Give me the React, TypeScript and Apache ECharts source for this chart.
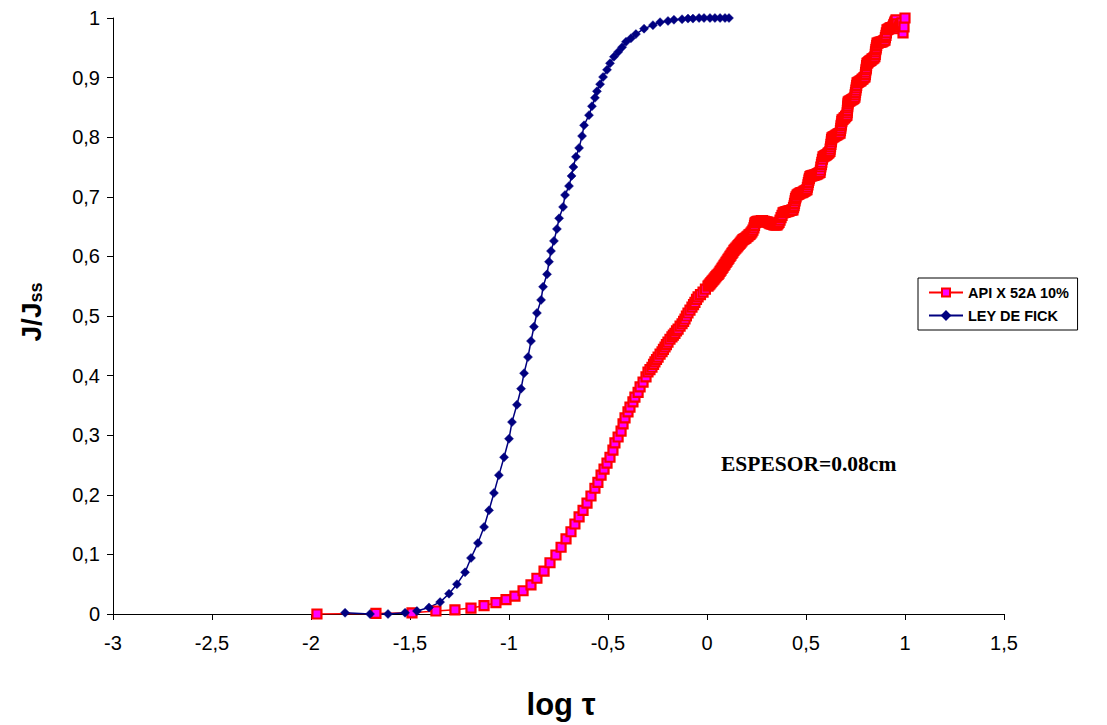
import React, { useEffect, useRef } from "react";
import * as echarts from "echarts";

// API X 52A 10%: [log tau, J/Jss]
const apiPoints: [number, number][] = [
  [-1.970, 0.000], [-1.672, 0.001], [-1.490, 0.002], [-1.369, 0.005], [-1.273, 0.007],
  [-1.192, 0.010], [-1.126, 0.014], [-1.066, 0.019], [-1.015, 0.024], [-0.970, 0.030],
  [-0.929, 0.039], [-0.889, 0.049], [-0.859, 0.060], [-0.823, 0.072], [-0.793, 0.086],
  [-0.763, 0.099], [-0.737, 0.112], [-0.712, 0.126], [-0.687, 0.138], [-0.667, 0.151],
  [-0.646, 0.163], [-0.626, 0.174], [-0.606, 0.186], [-0.586, 0.198], [-0.566, 0.211],
  [-0.551, 0.221], [-0.535, 0.233], [-0.520, 0.243], [-0.505, 0.253], [-0.490, 0.263],
  [-0.475, 0.275], [-0.465, 0.287], [-0.449, 0.297], [-0.434, 0.307], [-0.424, 0.319],
  [-0.414, 0.329], [-0.399, 0.339], [-0.389, 0.347], [-0.374, 0.356], [-0.364, 0.364],
  [-0.348, 0.372], [-0.338, 0.381], [-0.323, 0.389], [-0.308, 0.398], [-0.298, 0.406],
  [-0.288, 0.410], [-0.278, 0.414], [-0.270, 0.419], [-0.263, 0.423], [-0.255, 0.427],
  [-0.247, 0.431], [-0.237, 0.436], [-0.227, 0.440], [-0.220, 0.444], [-0.212, 0.448],
  [-0.205, 0.452], [-0.197, 0.456], [-0.187, 0.461], [-0.177, 0.465], [-0.170, 0.468],
  [-0.162, 0.471], [-0.154, 0.475], [-0.146, 0.478], [-0.136, 0.483], [-0.126, 0.487],
  [-0.118, 0.491], [-0.111, 0.495], [-0.104, 0.500], [-0.096, 0.505], [-0.086, 0.510],
  [-0.076, 0.515], [-0.068, 0.519], [-0.061, 0.523], [-0.053, 0.528], [-0.045, 0.532],
  [-0.033, 0.536], [-0.020, 0.540], [-0.008, 0.545],
  [0.005, 0.550], [0.010, 0.552], [0.015, 0.554], [0.020, 0.556], [0.025, 0.558],
  [0.030, 0.560], [0.035, 0.562], [0.040, 0.564], [0.045, 0.566], [0.050, 0.568],
  [0.056, 0.570], [0.061, 0.572], [0.066, 0.575], [0.071, 0.577], [0.076, 0.580],
  [0.081, 0.582], [0.086, 0.585], [0.091, 0.587], [0.096, 0.590], [0.101, 0.592],
  [0.106, 0.595], [0.111, 0.597], [0.116, 0.600], [0.121, 0.602], [0.126, 0.605],
  [0.131, 0.607], [0.136, 0.610], [0.141, 0.612], [0.146, 0.614], [0.152, 0.616],
  [0.157, 0.618], [0.162, 0.620], [0.167, 0.622], [0.172, 0.624], [0.177, 0.626],
  [0.182, 0.628], [0.187, 0.629], [0.192, 0.630], [0.197, 0.631], [0.202, 0.633],
  [0.207, 0.634], [0.212, 0.636], [0.217, 0.637], [0.222, 0.639], [0.227, 0.641],
  [0.232, 0.644], [0.237, 0.648], [0.240, 0.652], [0.242, 0.656], [0.246, 0.657],
  [0.250, 0.658], [0.255, 0.659], [0.260, 0.659], [0.265, 0.659], [0.270, 0.659],
  [0.275, 0.660], [0.280, 0.660], [0.285, 0.659], [0.290, 0.659], [0.296, 0.658],
  [0.303, 0.658], [0.308, 0.657], [0.313, 0.656], [0.318, 0.655], [0.323, 0.655],
  [0.328, 0.654], [0.333, 0.654], [0.338, 0.653], [0.344, 0.653], [0.349, 0.653],
  [0.354, 0.653], [0.359, 0.655], [0.364, 0.657], [0.369, 0.661], [0.374, 0.665],
  [0.379, 0.669], [0.384, 0.673], [0.389, 0.674], [0.394, 0.674], [0.399, 0.675],
  [0.404, 0.675], [0.409, 0.676], [0.414, 0.676], [0.419, 0.677], [0.424, 0.677],
  [0.429, 0.678], [0.434, 0.678], [0.437, 0.682], [0.440, 0.685], [0.442, 0.689],
  [0.445, 0.693], [0.447, 0.697], [0.450, 0.700], [0.455, 0.703], [0.460, 0.704],
  [0.465, 0.705], [0.470, 0.706], [0.475, 0.707], [0.480, 0.707], [0.485, 0.708],
  [0.490, 0.709], [0.495, 0.710], [0.500, 0.711], [0.505, 0.712], [0.507, 0.716],
  [0.510, 0.720], [0.512, 0.724], [0.515, 0.728], [0.517, 0.731], [0.520, 0.734],
  [0.525, 0.735], [0.530, 0.735], [0.535, 0.736], [0.540, 0.736], [0.545, 0.737],
  [0.550, 0.737], [0.555, 0.738], [0.560, 0.739], [0.566, 0.740], [0.571, 0.741],
  [0.573, 0.745], [0.575, 0.750], [0.578, 0.754], [0.580, 0.758], [0.583, 0.763],
  [0.586, 0.767], [0.591, 0.768], [0.596, 0.769], [0.601, 0.770], [0.606, 0.771],
  [0.611, 0.773], [0.616, 0.774], [0.621, 0.776], [0.622, 0.780], [0.624, 0.784],
  [0.626, 0.788], [0.628, 0.792], [0.629, 0.796], [0.631, 0.799], [0.636, 0.800],
  [0.641, 0.801], [0.646, 0.802], [0.651, 0.803], [0.656, 0.804], [0.661, 0.805],
  [0.666, 0.806], [0.672, 0.807], [0.674, 0.811], [0.676, 0.815], [0.677, 0.819],
  [0.679, 0.822], [0.681, 0.826], [0.682, 0.829], [0.687, 0.830], [0.692, 0.832],
  [0.696, 0.833], [0.700, 0.835], [0.704, 0.836], [0.707, 0.837], [0.708, 0.841],
  [0.709, 0.845], [0.710, 0.849], [0.711, 0.852], [0.712, 0.856], [0.713, 0.859],
  [0.717, 0.860], [0.722, 0.861], [0.727, 0.862], [0.732, 0.863], [0.737, 0.864],
  [0.742, 0.865], [0.747, 0.867], [0.748, 0.871], [0.750, 0.875], [0.752, 0.879],
  [0.754, 0.883], [0.756, 0.887], [0.758, 0.891], [0.763, 0.892], [0.768, 0.893],
  [0.773, 0.894], [0.778, 0.895], [0.783, 0.897], [0.788, 0.898], [0.793, 0.900],
  [0.798, 0.901], [0.800, 0.905], [0.801, 0.909], [0.803, 0.913], [0.805, 0.916],
  [0.806, 0.920], [0.808, 0.924], [0.813, 0.925], [0.818, 0.927], [0.823, 0.928],
  [0.828, 0.929], [0.833, 0.931], [0.838, 0.932], [0.843, 0.933], [0.848, 0.935],
  [0.850, 0.939], [0.851, 0.943], [0.853, 0.947], [0.855, 0.950], [0.857, 0.954],
  [0.859, 0.958], [0.864, 0.958], [0.869, 0.959], [0.874, 0.959], [0.879, 0.960],
  [0.884, 0.960], [0.889, 0.961], [0.894, 0.962], [0.899, 0.963], [0.901, 0.967],
  [0.904, 0.971], [0.906, 0.975], [0.909, 0.980], [0.914, 0.981], [0.919, 0.982],
  [0.924, 0.983], [0.929, 0.984], [0.934, 0.984], [0.939, 0.985], [0.942, 0.987],
  [0.944, 0.989], [0.947, 0.991], [0.949, 0.993], [0.952, 0.995], [0.955, 0.997],
  [0.960, 0.990], [0.965, 0.982], [0.970, 0.985], [0.975, 0.988], [0.980, 0.990],
  [0.985, 0.992], [0.990, 0.975], [0.995, 0.985], [1.000, 1.000],
];

// LEY DE FICK: [log tau, J/Jss]
const fickPoints: [number, number][] = [
  [-1.828, 0.002], [-1.702, 0.000], [-1.611, 0.000], [-1.525, 0.002], [-1.465, 0.005],
  [-1.404, 0.011], [-1.348, 0.020], [-1.303, 0.034], [-1.263, 0.050], [-1.222, 0.070],
  [-1.192, 0.094], [-1.157, 0.119], [-1.126, 0.146], [-1.101, 0.174], [-1.076, 0.203],
  [-1.051, 0.233], [-1.025, 0.263], [-1.000, 0.294], [-0.985, 0.322], [-0.960, 0.351],
  [-0.939, 0.378], [-0.924, 0.404], [-0.904, 0.431], [-0.889, 0.458], [-0.874, 0.482],
  [-0.859, 0.505], [-0.838, 0.527], [-0.828, 0.549], [-0.808, 0.570], [-0.798, 0.591],
  [-0.788, 0.609], [-0.773, 0.626], [-0.758, 0.646], [-0.747, 0.664], [-0.727, 0.683],
  [-0.717, 0.703], [-0.697, 0.718], [-0.684, 0.735], [-0.675, 0.750], [-0.662, 0.767],
  [-0.646, 0.782], [-0.631, 0.802], [-0.621, 0.820], [-0.596, 0.837], [-0.581, 0.852],
  [-0.566, 0.866], [-0.556, 0.877], [-0.540, 0.889], [-0.525, 0.901], [-0.505, 0.913],
  [-0.490, 0.924], [-0.470, 0.935], [-0.449, 0.943], [-0.429, 0.951], [-0.409, 0.960],
  [-0.384, 0.966], [-0.359, 0.973], [-0.318, 0.982], [-0.273, 0.988], [-0.237, 0.993],
  [-0.197, 0.995], [-0.167, 0.997], [-0.126, 0.998], [-0.096, 0.999], [-0.071, 0.999],
  [-0.040, 1.000], [-0.015, 1.000], [0.015, 1.000], [0.040, 1.000], [0.066, 1.000],
  [0.091, 1.000], [0.111, 1.000],
];

const seriesNames = ["API X 52A 10%", "LEY DE FICK"];
const xTicks = { min: -3, max: 1.5, step: 0.5 };
const yTicks = { min: 0, max: 1, step: 0.1 };

const fmt = (v: number) => String(Number(v.toFixed(2))).replace(".", ",");

export default function App() {
  const ref = useRef<HTMLDivElement>(null);
  useEffect(() => {
    if (!ref.current) return;
    const chart = echarts.init(ref.current, null, { renderer: "svg" });
    const labelFont = { fontFamily: "'Liberation Sans', Arial, sans-serif", fontSize: 20, color: "#000" };
    chart.setOption({
      animation: false,
      backgroundColor: "#fff",
      grid: { left: 113, right: 103, top: 18, bottom: 111 },
      xAxis: {
        type: "value",
        min: xTicks.min,
        max: xTicks.max,
        interval: xTicks.step,
        axisLine: { onZero: false, lineStyle: { color: "#000", width: 1 } },
        axisTick: { show: true, length: 6, lineStyle: { color: "#000" } },
        splitLine: { show: false },
        axisLabel: { ...labelFont, margin: 19, formatter: fmt, showMinLabel: true, showMaxLabel: true },
      },
      yAxis: {
        type: "value",
        min: yTicks.min,
        max: yTicks.max,
        interval: yTicks.step,
        axisLine: { show: true, onZero: false, lineStyle: { color: "#000", width: 1 } },
        axisTick: { show: true, length: 6, lineStyle: { color: "#000" } },
        splitLine: { show: false },
        axisLabel: { ...labelFont, margin: 13, formatter: fmt, showMinLabel: true, showMaxLabel: true },
      },
      legend: {
        left: 918,
        top: 278,
        orient: "vertical",
        backgroundColor: "#fff",
        borderColor: "#000",
        borderWidth: 1,
        padding: [7, 8, 7, 10],
        itemGap: 8,
        itemWidth: 34,
        itemHeight: 10,
        textStyle: { fontFamily: "'Liberation Sans', Arial, sans-serif", fontWeight: "bold", fontSize: 14.5, color: "#000" },
        data: seriesNames,
      },
      series: [
        {
          name: seriesNames[0],
          type: "line",
          data: apiPoints,
          symbol: "rect",
          symbolSize: 9,
          showAllSymbol: true,
          itemStyle: { color: "#FF00FF", borderColor: "#FF0000", borderWidth: 2.2 },
          lineStyle: { color: "#FF0000", width: 1.5 },
        },
        {
          name: seriesNames[1],
          type: "line",
          data: fickPoints,
          symbol: "diamond",
          symbolSize: 9,
          showAllSymbol: true,
          itemStyle: { color: "#000080", borderColor: "#000080", borderWidth: 0.5 },
          lineStyle: { color: "#000080", width: 1.5 },
        },
      ],
      graphic: [
        {
          type: "text",
          left: 721,
          top: 453,
          style: { text: "ESPESOR=0.08cm", font: "bold 21.5px 'Liberation Serif', 'Times New Roman', serif", fill: "#000" },
        },
        {
          type: "text",
          x: 561,
          y: 704,
          style: {
            text: "log τ",
            font: "bold 31px 'Liberation Sans', Arial, sans-serif",
            fill: "#000",
            align: "center",
            verticalAlign: "middle",
          },
        },
        {
          type: "text",
          x: 30,
          y: 312,
          rotation: Math.PI / 2,
          style: {
            text: "{a|J/J}{b|ss}",
            align: "center",
            verticalAlign: "middle",
            rich: {
              a: { font: "bold 28px 'Liberation Sans', Arial, sans-serif", fill: "#000", verticalAlign: "bottom" },
              b: { font: "bold 18px 'Liberation Sans', Arial, sans-serif", fill: "#000", verticalAlign: "bottom", padding: [12, 0, 0, 0] },
            },
          },
        },
      ],
    });
    return () => chart.dispose();
  }, []);
  return <div ref={ref} style={{ position: "fixed", left: 0, top: 0, width: 1107, height: 725 }} />;
}
